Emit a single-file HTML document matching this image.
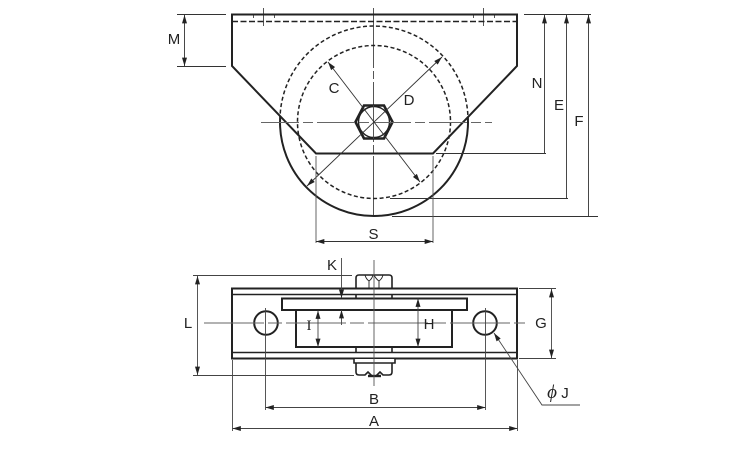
<!DOCTYPE html>
<html>
<head>
<meta charset="utf-8">
<style>
html,body{margin:0;padding:0;background:#fff;width:750px;height:450px;overflow:hidden}
svg{display:block}
text{font-family:"Liberation Sans",sans-serif;font-size:15px;fill:#222;text-anchor:middle}
</style>
</head>
<body>
<svg width="750" height="450" viewBox="0 0 750 450" xmlns="http://www.w3.org/2000/svg">
<defs>
<marker id="a" viewBox="0 0 10 6" refX="10" refY="3" markerWidth="9" markerHeight="5" markerUnits="userSpaceOnUse" orient="auto-start-reverse"><path d="M0 0L10 3L0 6z" fill="#222"/></marker>
<clipPath id="lw"><path d="M270 105.600L316 153.500H433L478 106.600V230H270Z"/></clipPath>
</defs>

<!-- thin center lines, top view -->
<g fill="none" stroke="#555" stroke-width="1">
<path d="M373.500 8V216" stroke-dasharray="60 3 8 3"/>
<path d="M263.500 8V26M253.500 14V18M274.500 14V18M483.500 8V26M473.500 14V18M494.500 14V18"/>
</g>

<!-- top view wheel -->
<g fill="none" stroke="#222">
<path d="M280 120A94 94 0 0 1 468 120" stroke-width="1.500" stroke-dasharray="4 2.500"/>
<circle cx="374" cy="122" r="76.500" stroke-width="1.500" stroke-dasharray="4 2.500"/>
<circle cx="374" cy="122" r="94" stroke-width="2" clip-path="url(#lw)"/>
<path d="M232 21.500H517" stroke-width="1.500" stroke-dasharray="6 2.500"/>
<path d="M232 14.500H517V66L433 153.500H316L232 66Z" stroke-width="2"/>
<path d="M355.500 122L364 105.500H384L392.500 122L384 138.500H364Z" stroke-width="2.600" fill="#fff"/>
<circle cx="374" cy="122" r="15.500" stroke-width="1.400"/>
</g>

<g fill="none" stroke="#333" stroke-width="0.900">
<path d="M261 122.500H492" stroke="#666" stroke-dasharray="38 4 10 4"/>
<path d="M373.500 105V139" stroke="#444"/>
<path d="M328 62L420 182" marker-start="url(#a)" marker-end="url(#a)"/>
<path d="M442 57L307 186" marker-start="url(#a)" marker-end="url(#a)"/>

<!-- M -->
<path d="M177 14.500H226M177 66.500H226"/>
<path d="M184.500 15V66" marker-start="url(#a)" marker-end="url(#a)"/>
<!-- N E F -->
<path d="M524 14.500H591M436 153.500H546M390 198.500H568M392 216.500H598"/>
<path d="M544.500 15V153" marker-start="url(#a)"/>
<path d="M566.500 15V198" marker-start="url(#a)"/>
<path d="M588.500 15V216" marker-start="url(#a)"/>
<!-- S -->
<path d="M316 156V243M433 156V243" stroke="#555"/>
<path d="M316 241.500H433" marker-start="url(#a)" marker-end="url(#a)"/>
</g>

<text x="174" y="44">M</text>
<text x="334" y="93">C</text>
<text x="409" y="105">D</text>
<text x="537" y="88">N</text>
<text x="559" y="110">E</text>
<text x="579" y="126">F</text>
<text x="373.500" y="239">S</text>

<!-- bottom view -->
<g fill="none" stroke="#222">
<path d="M232 288.500H517V358.500H232Z" stroke-width="2"/>
<path d="M232 294.500H517M232 352.500H517" stroke-width="1.600"/>
<rect x="282" y="298.500" width="185" height="11.500" stroke-width="2" fill="#fff"/>
<rect x="296" y="310" width="156" height="37" stroke-width="2" fill="#fff"/>
<path d="M356 288V278Q356 275 359 275H389Q392 275 392 278V288" stroke-width="1.600"/>
<path d="M356 295V298M392 295V298M356 347V352M392 347V352" stroke-width="1.600"/>
<path d="M365 275Q366 279 369 281Q372 279 373 275M374 275Q376 279 379 281Q382 279 383 275M369 281V288M379 281V288" stroke-width="0.900"/>
<path d="M354 359V363H395V359M356 363V372Q356 375 359 375H365L368 372L372 376H376L380 372L383 375H389Q392 375 392 372V363" stroke-width="1.600" fill="#fff"/>
<path d="M368 376H381" stroke-width="2.400"/>
<circle cx="266" cy="323" r="11.800" stroke-width="2" fill="#fff"/>
<circle cx="485" cy="323" r="11.800" stroke-width="2" fill="#fff"/>
</g>

<g fill="none" stroke="#444" stroke-width="0.900">
<path d="M204 323H525" stroke="#666" stroke-dasharray="60 4 14 4"/>
<path d="M374 260V386" stroke="#555"/>
<path d="M265.500 308V410" stroke="#444"/>
<path d="M485.500 308V410" stroke="#444"/>
<path d="M232.500 360V431M517.500 360V431"/>
<path d="M265.500 407.500H485.500" marker-start="url(#a)" marker-end="url(#a)"/>
<path d="M232.500 428.500H517.500" marker-start="url(#a)" marker-end="url(#a)"/>
<path d="M193 275.500H352M193 375.500H354"/>
<path d="M197.500 276V375" marker-start="url(#a)" marker-end="url(#a)"/>
<path d="M341.500 258V298" marker-end="url(#a)"/>
<path d="M341.500 325V310" marker-end="url(#a)"/>
<path d="M318 310.500V347" marker-start="url(#a)" marker-end="url(#a)"/>
<path d="M418 298.500V347" marker-start="url(#a)" marker-end="url(#a)"/>
<path d="M519 288.500H556M519 358.500H556"/>
<path d="M551.500 289V358" marker-start="url(#a)" marker-end="url(#a)"/>
<path d="M580 405H542L494 333" marker-end="url(#a)"/>
</g>

<text x="332" y="270">K</text>
<text x="188" y="328">L</text>
<text x="309" y="330" style="font-family:'Liberation Serif',serif">I</text>
<text x="429" y="329">H</text>
<text x="541" y="328">G</text>
<text x="374" y="404">B</text>
<text x="374" y="426">A</text>
<text x="552" y="398" style="font-family:'Liberation Serif',serif;font-style:italic;font-size:19px">ϕ</text>
<text x="565" y="398">J</text>
</svg>
</body>
</html>
